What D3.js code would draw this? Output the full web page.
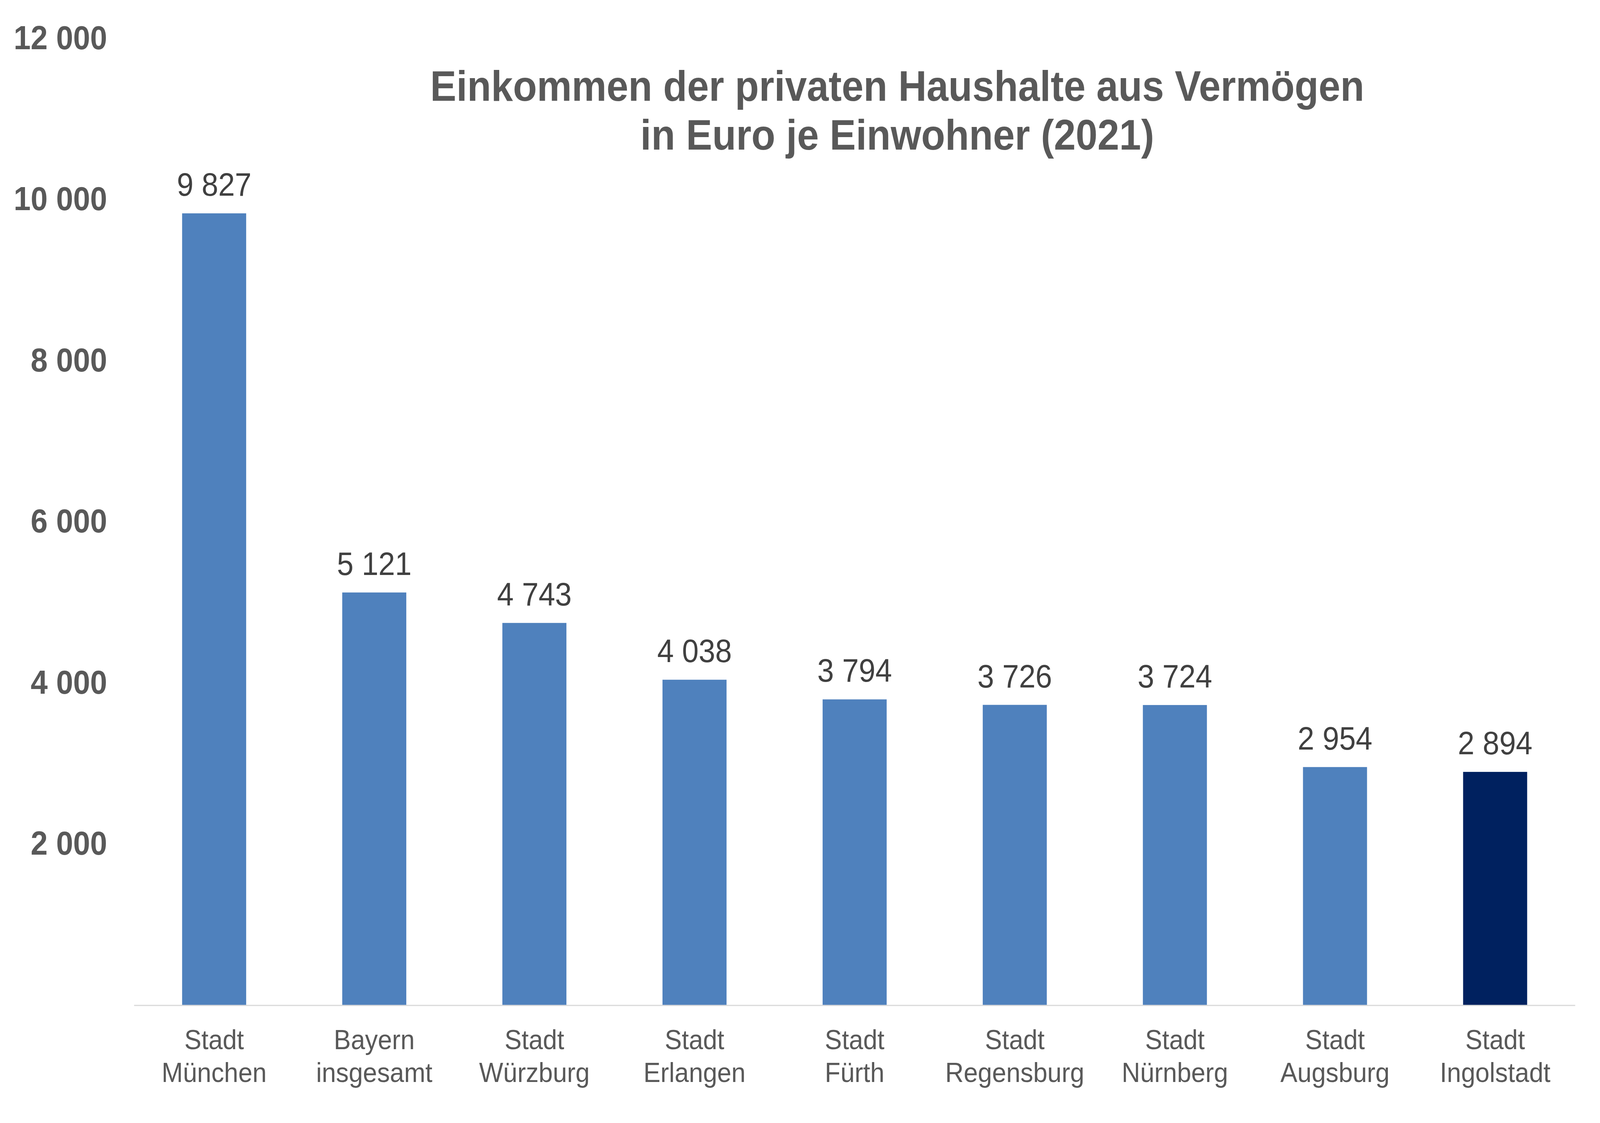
<!DOCTYPE html>
<html>
<head>
<meta charset="utf-8">
<script src="https://cdn.jsdelivr.net/npm/d3@7"></script>
<style>
  html, body { margin: 0; padding: 0; background: #fff; overflow: hidden; }
  svg { display: block; width: 100vw; height: 100vh; }
  text { font-family: "Liberation Sans", Arial, sans-serif; }
</style>
</head>
<body>
<div id="chart"></div>
<script>
// Einkommen aus Vermögen je Einwohner 2021
var cities = ['Stadt München', 'Bayern insgesamt', 'Stadt Würzburg', 'Stadt Erlangen',
    'Stadt Fürth', 'Stadt Regensburg', 'Stadt Nürnberg', 'Stadt Augsburg', 'Stadt Ingolstadt'];
var labelLines = [['Stadt', 'München'], ['Bayern', 'insgesamt'], ['Stadt', 'Würzburg'],
    ['Stadt', 'Erlangen'], ['Stadt', 'Fürth'], ['Stadt', 'Regensburg'], ['Stadt', 'Nürnberg'],
    ['Stadt', 'Augsburg'], ['Stadt', 'Ingolstadt']];
var values = [9827, 5121, 4743, 4038, 3794, 3726, 3724, 2954, 2894];
var yTicks = [2000, 4000, 6000, 8000, 10000, 12000];
var titleLines = ['Einkommen der privaten Haushalte aus Vermögen', 'in Euro je Einwohner (2021)'];
var highlight = 'Stadt Ingolstadt';

var width = 4451, height = 2875;
var de = d3.formatLocale({decimal: ',', thousands: ' ', grouping: [3], currency: ['', ' €']});
var fmt = de.format(',d');

// fit drawing to the window whatever its size
var svg = d3.select('#chart')
    .append('svg')
    .attr('viewBox', `0 0 ${width} ${height}`)
    .attr('preserveAspectRatio', 'none');

var x = d3.scaleBand()
    .domain(cities)
    .range([373, 4382])
    .paddingInner(0.6)
    .paddingOuter(0.3);

var y = d3.scaleLinear()
    .domain([0, 12000])
    .range([2573, 98]);

// y axis labels only, no line
var yAxis = svg.append('g')
    .attr('transform', 'translate(298,0)')
    .call(d3.axisLeft(y).tickValues(yTicks).tickSize(0).tickPadding(0).tickFormat(fmt));
yAxis.select('.domain').remove();
yAxis.selectAll('text')
    .attr('fill', '#595959')
    .attr('font-size', 85)
    .attr('font-weight', 'bold')
    .attr('font-family', '"Liberation Sans", Arial, sans-serif');

// bars
svg.selectAll('rect.bar')
    .data(values)
    .enter()
    .append('rect')
    .attr('class', 'bar')
    .attr('x', (d, i) => x(cities[i]))
    .attr('y', d => y(d))
    .attr('width', x.bandwidth())
    .attr('height', d => y(0) - y(d))
    .attr('fill', (d, i) => cities[i] === highlight ? '#00215f' : '#4f81bd');

// baseline
svg.append('line')
    .attr('x1', x.range()[0])
    .attr('x2', x.range()[1])
    .attr('y1', y(0) + 1)
    .attr('y2', y(0) + 1)
    .attr('stroke', '#d9d9d9')
    .attr('stroke-width', 3);

// value labels
svg.selectAll('text.val')
    .data(values)
    .enter()
    .append('text')
    .attr('class', 'val')
    .attr('x', (d, i) => x(cities[i]) + x.bandwidth() / 2)
    .attr('y', d => y(d) - 45)
    .attr('text-anchor', 'middle')
    .attr('font-size', 83)
    .attr('fill', '#404040')
    .text(d => fmt(d));

// category labels
var cat = svg.selectAll('text.cat')
    .data(labelLines)
    .enter()
    .append('text')
    .attr('class', 'cat')
    .attr('text-anchor', 'middle')
    .attr('font-size', 71)
    .attr('fill', '#595959');
cat.selectAll('tspan')
    .data((d, i) => d.map(t => ({t: t, i: i})))
    .enter()
    .append('tspan')
    .attr('x', d => x(cities[d.i]) + x.bandwidth() / 2)
    .attr('y', (d, j) => 2686 + j * 84)
    .text(d => d.t);

// title
svg.selectAll('text.title')
    .data(titleLines)
    .enter()
    .append('text')
    .attr('class', 'title')
    .attr('x', 2496)
    .attr('y', (d, i) => 258 + i * 125)
    .attr('text-anchor', 'middle')
    .attr('font-size', 109)
    .attr('font-weight', 'bold')
    .attr('fill', '#595959')
    .text(d => d);
</script>
</body>
</html>
